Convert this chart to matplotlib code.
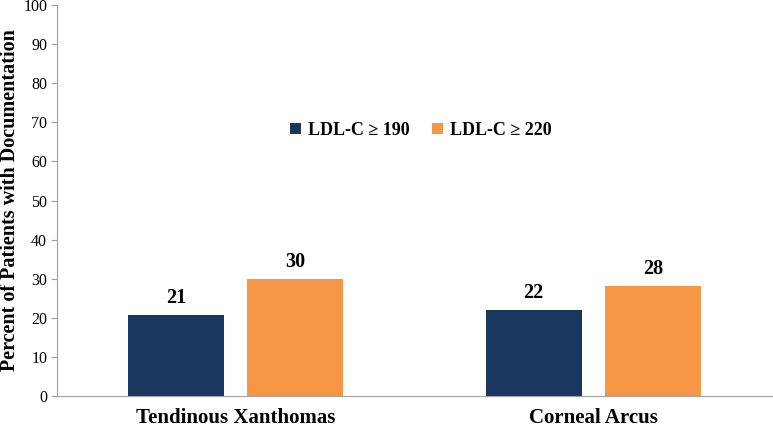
import matplotlib.pyplot as plt
import numpy as np

plt.rcParams['font.family'] = ['Liberation Serif', 'DejaVu Serif']

categories = ["Tendinous Xanthomas", "Corneal Arcus"]
series_names = ["LDL-C \u2265 190", "LDL-C \u2265 220"]
ldl190 = [20.6, 22.0]
ldl220 = [30.0, 28.1]
labels190 = ["21", "22"]
labels220 = ["30", "28"]
colors = ["#17375e", "#f79646"]

fig = plt.figure(figsize=(7.73, 4.28), dpi=100)
ax = fig.add_axes([0.0737, 0.075, 0.925, 0.913])

x = np.arange(len(categories))
w = 0.268
off = 0.1665
b1 = ax.bar(x - off, ldl190, w, color=colors[0], label=series_names[0])
b2 = ax.bar(x + off, ldl220, w, color=colors[1], label=series_names[1])

for bars, labs in [(b1, labels190), (b2, labels220)]:
    for bar, lab in zip(bars, labs):
        ax.annotate(lab, (bar.get_x() + bar.get_width() / 2, bar.get_height()),
                    xytext=(0, 5), textcoords="offset points", ha="center", va="bottom",
                    fontsize=14.5, fontweight="bold")

ax.set_xlim(-0.5, 1.5)
ax.set_ylim(0, 100)
ax.set_yticks(np.arange(0, 101, 10))
ax.set_xticks(x)
ax.set_xticklabels(categories, fontsize=15, fontweight="bold")
ax.tick_params(axis="x", length=0, pad=9)
ax.tick_params(axis="y", labelsize=11.5, length=4, color="#a0a0a0", pad=3)
ax.set_ylabel("Percent of Patients with Documentation", fontsize=14.5, fontweight="bold")
ax.yaxis.set_label_coords(-0.052, 0.5)

for s in ["top", "right"]:
    ax.spines[s].set_visible(False)
for s in ["left", "bottom"]:
    ax.spines[s].set_color("#a0a0a0")

ax.legend(loc="center", bbox_to_anchor=(0.509, 0.68), ncol=2, frameon=False,
          prop={"weight": "bold", "size": 13}, handlelength=0.6, handleheight=0.6,
          handletextpad=0.4, columnspacing=1.2)

fig.savefig("out.png", dpi=100)
